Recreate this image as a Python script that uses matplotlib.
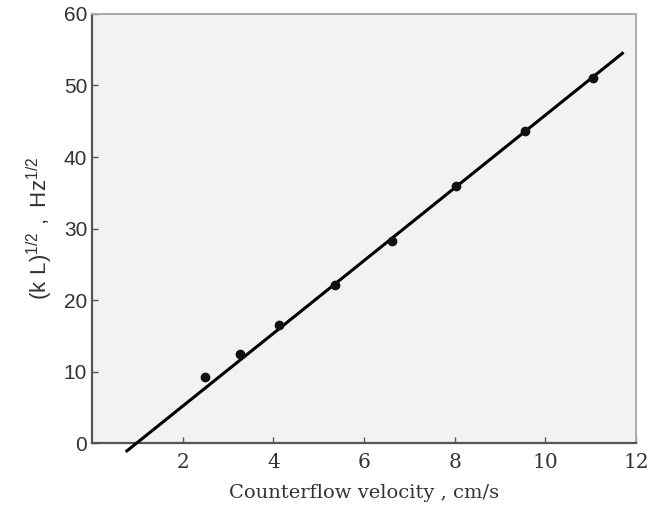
import matplotlib.pyplot as plt

# measured points
velocity = [2.5, 3.27, 4.13, 5.35, 6.62, 8.02, 9.56, 11.05]
sqrt_kl = [9.3, 12.4, 16.5, 22.1, 28.3, 35.9, 43.7, 51.0]

# fitted line end points
fit_x = [0.77, 11.7]
fit_y = [-1.1, 54.5]

fig = plt.figure(figsize=(6.64, 5.07), dpi=100)
ax = fig.add_axes([0.1386, 0.1262, 0.8192, 0.8462])
ax.set_facecolor('#f2f2f2')

ax.plot(fit_x, fit_y, color='black', lw=2.2, clip_on=False, zorder=3)
ax.plot(velocity, sqrt_kl, 'o', color='#111111', ms=6, zorder=4)

ax.set_xlim(0, 12)
ax.set_ylim(0, 60)
ax.set_xticks([2, 4, 6, 8, 10, 12])
ax.set_yticks([0, 10, 20, 30, 40, 50, 60])
ax.tick_params(direction='in', length=4, width=1, color='#555555')
ax.tick_params(axis='x', pad=7)
for lab in ax.get_xticklabels():
    lab.set_fontfamily('DejaVu Serif')
    lab.set_fontsize(14.5)
    lab.set_color('#333333')
for lab in ax.get_yticklabels():
    lab.set_fontfamily('Liberation Sans')
    lab.set_fontsize(15)
    lab.set_color('#333333')

for side in ['left', 'bottom']:
    ax.spines[side].set_color('#555555')
    ax.spines[side].set_linewidth(1.6)
for side in ['top', 'right']:
    ax.spines[side].set_color('#aaaaaa')
    ax.spines[side].set_linewidth(1.4)

ax.set_xlabel('Counterflow velocity , cm/s', fontfamily='DejaVu Serif',
              fontsize=14, color='#333333', labelpad=9)
ax.set_ylabel(r'$\mathregular{(k\ L)^{1/2}\ ,\ Hz^{1/2}}$', fontfamily='Liberation Sans',
              fontsize=16, color='#333333', labelpad=6)

plt.savefig('out.png', dpi=100)
